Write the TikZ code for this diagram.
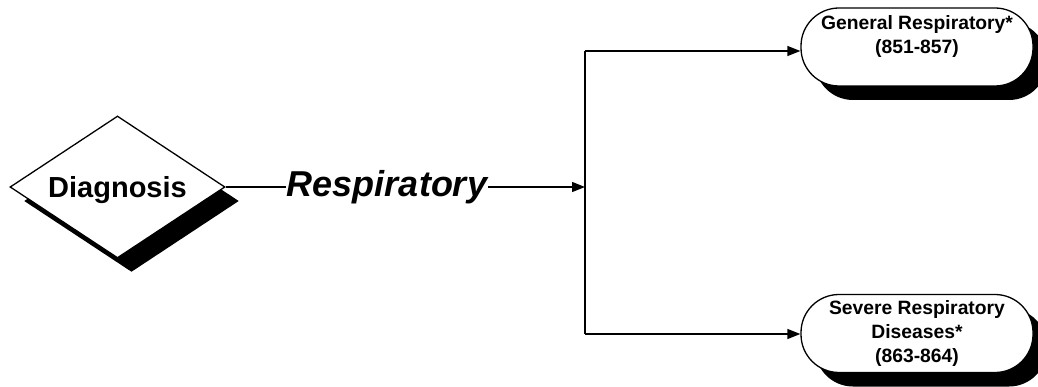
\documentclass[tikz,border=0pt]{standalone}
\usepackage{fontspec}
\setmainfont{Liberation Sans}
\usetikzlibrary{shapes.geometric,shadows,arrows.meta}
\begin{document}
\begin{tikzpicture}[x=1pt,y=-1pt,
  line/.style={line width=1.3pt},
  arr/.style={line, -{Triangle[length=13pt,width=10pt]}},
  shade/.style={drop shadow={shadow xshift=14pt,shadow yshift=-14pt,fill=black,opacity=1}},
  decision/.style={diamond, aspect=1.5, draw, line width=1.3pt, fill=white, shade, minimum width=215pt, minimum height=142pt, inner sep=0pt, font=\fontsize{29}{32}\selectfont\bfseries, text depth=0pt},
  terminal/.style={draw, line width=1.3pt, fill=white, shade, rounded corners=38pt, minimum width=232pt, minimum height=78pt, inner sep=0pt, align=center, font=\fontsize{19.3}{24}\selectfont\bfseries},
  label/.style={font=\fontsize{36}{40}\selectfont\bfseries\itshape, inner sep=1pt}]
\useasboundingbox (0,0) rectangle (1038,387);
\node[decision] (diag) at (117.5,187) {Diagnosis};
\node[label] (resp) at (387,187) {Respiratory};
\coordinate (junc) at (585,187);
\coordinate (jtop) at (585,51);
\coordinate (jbot) at (585,334);
\node[terminal] (gen) at (917,47) {General Respiratory*\\(851-857)\\\mbox{}};
\node[terminal] (sev) at (917,333.5) {Severe Respiratory\\Diseases*\\(863-864)};
\draw[line] (diag.east) -- (resp.west);
\draw[arr] (resp.east) -- (junc);
\draw[line] (jtop) -- (jbot);
\draw[arr] (jtop) -- (jtop -| gen.west);
\draw[arr] (jbot) -- (jbot -| sev.west);
\end{tikzpicture}
\end{document}
